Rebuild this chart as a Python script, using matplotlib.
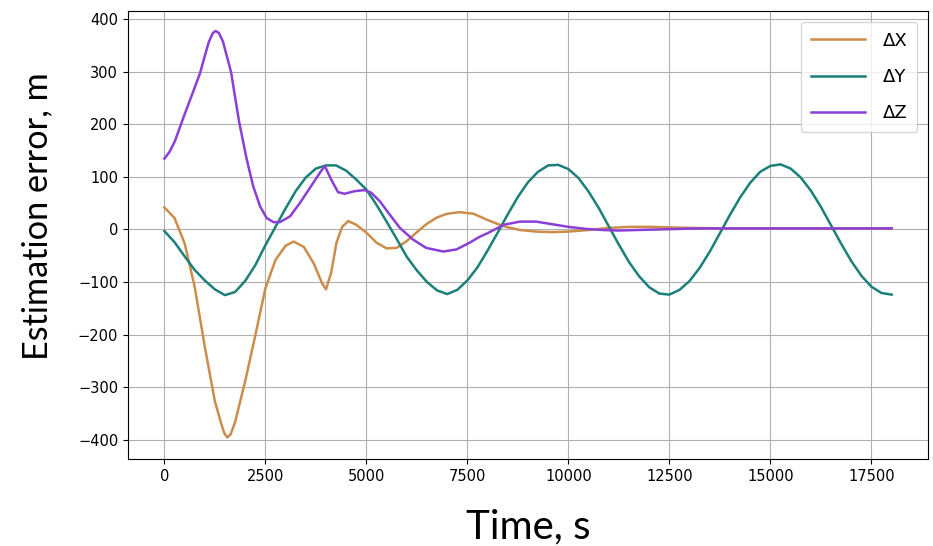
import matplotlib
matplotlib.use("Agg")
import matplotlib.pyplot as plt

# --- data ---
t_dx = [0, 250, 500, 750, 1000, 1250, 1420, 1490, 1560, 1640, 1750, 2000, 2250, 2500,
        2750, 3000, 3200, 3450, 3700, 3900, 4000, 4130, 4260, 4400, 4550, 4750, 5000,
        5250, 5500, 5750, 6000, 6250, 6500, 6750, 7000, 7300, 7650, 8000, 8400, 8800,
        9200, 9600, 10000, 10500, 11000, 11500, 12000, 12500, 13000, 14000, 15000,
        16000, 17000, 18000]
dx = [42, 22, -26, -109, -223, -327, -373, -389, -396, -390, -367, -289, -202, -112,
      -58, -31, -23, -33, -65, -102, -114, -82, -25, 5, 16, 9, -6,
      -25, -36, -35, -22, -5, 11, 23, 30, 33, 30, 18, 6, -1,
      -4, -5, -4, -1, 3, 5, 5, 4, 3, 2, 2,
      2, 2, 2]

t_dy = [0, 250, 500, 750, 1000, 1250, 1500, 1750, 2000, 2250, 2500, 2750, 3000, 3250,
        3500, 3750, 4000, 4250, 4500, 4750, 5000, 5250, 5500, 5750, 6000, 6250, 6500,
        6750, 7000, 7250, 7500, 7750, 8000, 8250, 8500, 8750, 9000, 9250, 9500, 9750,
        10000, 10250, 10500, 10750, 11000, 11250, 11500, 11750, 12000, 12250, 12500,
        12750, 13000, 13250, 13500, 13750, 14000, 14250, 14500, 14750, 15000, 15250,
        15500, 15750, 16000, 16250, 16500, 16750, 17000, 17250, 17500, 17750, 18000]
dy = [-3, -24, -51, -77, -97, -114, -125, -119, -98, -68, -30, 5, 40, 73,
      99, 116, 122, 122, 112, 95, 76, 47, 15, -18, -52, -78, -100,
      -116, -123, -115, -97, -72, -40, -6, 29, 62, 90, 110, 122, 123,
      115, 98, 72, 41, 6, -29, -62, -89, -110, -122, -124,
      -115, -98, -73, -42, -7, 28, 61, 89, 110, 121, 124,
      116, 99, 74, 43, 8, -27, -60, -88, -109, -121, -124]

t_dz = [0, 130, 260, 500, 750, 880, 1000, 1100, 1200, 1270, 1350, 1450, 1650, 1850,
        2040, 2200, 2370, 2530, 2700, 2860, 3110, 3360, 3600, 3850, 3970, 4130, 4300,
        4460, 4710, 4960, 5120, 5330, 5580, 5830, 6150, 6480, 6900, 7230, 7560, 7800,
        8000, 8400, 8800, 9200, 9600, 10000, 10450, 10850, 11250, 11700, 12200, 12700,
        13200, 14000, 15000, 16000, 17000, 18000]
dz = [135, 148, 168, 219, 270, 297, 330, 357, 374, 378, 374, 358, 300, 205,
      133, 82, 44, 22, 14, 14, 25, 51, 79, 108, 121, 95, 71,
      68, 73, 75, 70, 54, 28, 3, -19, -35, -42, -38, -25, -14,
      -7, 9, 15, 15, 10, 5, 1, -1, -2, -1, 0, 1,
      2, 2, 2, 2, 2, 2]

labels = ["ΔX", "ΔY", "ΔZ"]
colors = ["#cc8d4b", "#1b807a", "#8b3fd6"]

fig = plt.figure(figsize=(9.33, 5.46), dpi=100)
ax = fig.add_axes([128 / 933, 1 - 459 / 546, 800 / 933, 448 / 546])

ax.plot(t_dx, dx, color=colors[0], lw=1.8, label=labels[0])
ax.plot(t_dy, dy, color=colors[1], lw=1.8, label=labels[1])
ax.plot(t_dz, dz, color=colors[2], lw=1.8, label=labels[2])

ax.set_xlim(-900, 18900)
ax.set_ylim(-437, 416)
ax.set_xticks(range(0, 17501, 2500))
ax.set_yticks(range(-400, 401, 100))
ax.tick_params(labelsize=10.5)
ax.grid(True, color="#b0b0b0", lw=0.8)

ax.legend(loc="upper right", fontsize=13, handlelength=3.0, labelspacing=1.0,
          handletextpad=0.95, borderpad=0.55, borderaxespad=0.6)

fig.text(528 / 933, 1 - 538 / 546, "Time, s", family="Lato", fontsize=29,
         ha="center", va="baseline")
fig.text(37 / 933, 1 - 216 / 546, "Estimation error, m", family="Lato", fontsize=24.7,
         rotation=90, ha="center", va="center")

fig.savefig("out.png", dpi=100)
